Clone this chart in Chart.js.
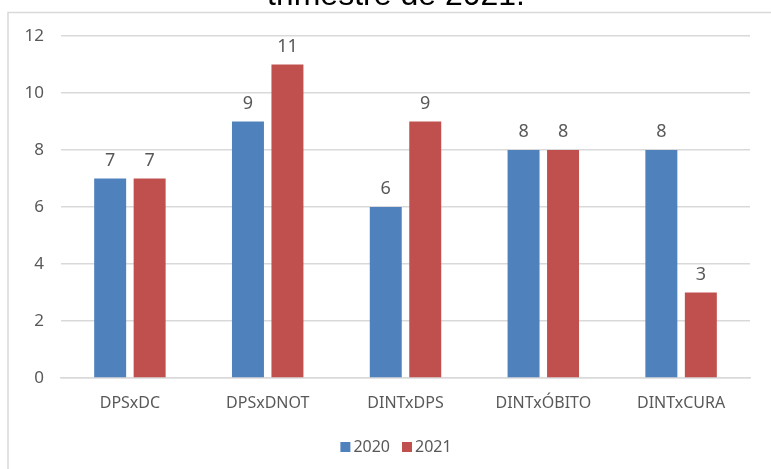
<!DOCTYPE html>
<html>
<head>
<meta charset="utf-8">
<script src="https://cdn.jsdelivr.net/npm/chart.js@4"></script>
<style>
html,body{margin:0;padding:0;background:#fff;}
#wrap{position:relative;width:771px;height:469px;}
</style>
</head>
<body>
<div id="wrap"><canvas id="c" width="771" height="469"></canvas></div>
<script>
const titleText = "trimestre de 2021.";
const categories = ["DPSxDC", "DPSxDNOT", "DINTxDPS", "DINTxÓBITO", "DINTxCURA"];
const seriesNames = ["2020", "2021"];
const values2020 = [7, 9, 6, 8, 8];
const values2021 = [7, 11, 9, 8, 3];
const yTicks = [0, 2, 4, 6, 8, 10, 12];

const textColor = "#595959";
const gridColor = "#D9D9D9";
const colors = ["#4F81BD", "#C0504D"];
const uiFont = "'Noto Sans', 'Open Sans', sans-serif";

const framePlugin = {
  id: "frame",
  beforeDraw(chart) {
    const ctx = chart.ctx;
    ctx.save();
    ctx.fillStyle = "#fff";
    ctx.fillRect(0, 0, chart.width, chart.height);
    ctx.strokeStyle = gridColor;
    ctx.lineWidth = 1.5;
    ctx.strokeRect(8, 12.5, chart.width + 10, chart.height + 10);
    ctx.fillStyle = "#000";
    ctx.font = "32px 'Liberation Sans', Arial, sans-serif";
    ctx.textAlign = "center";
    ctx.textBaseline = "alphabetic";
    ctx.fillText(titleText, 396, 5);
    ctx.restore();
  }
};

const labelPlugin = {
  id: "barLabels",
  afterDatasetsDraw(chart) {
    const ctx = chart.ctx;
    ctx.save();
    ctx.fillStyle = textColor;
    ctx.font = "18px " + uiFont;
    ctx.textAlign = "center";
    ctx.textBaseline = "alphabetic";
    chart.data.datasets.forEach((ds, i) => {
      const meta = chart.getDatasetMeta(i);
      meta.data.forEach((bar, j) => {
        ctx.fillText(String(ds.data[j]), bar.x, bar.y - 13);
      });
    });
    ctx.restore();
  }
};

const legendPlugin = {
  id: "customLegend",
  afterDraw(chart) {
    const ctx = chart.ctx;
    ctx.save();
    ctx.font = "16px " + uiFont;
    ctx.textBaseline = "middle";
    ctx.textAlign = "left";
    const box = 10, gapText = 3, gapItem = 12;
    const items = chart.data.datasets.map(ds => ({ label: ds.label, color: ds.backgroundColor, w: ctx.measureText(ds.label).width }));
    let total = 0;
    items.forEach((it, i) => { total += box + gapText + it.w + (i < items.length - 1 ? gapItem : 0); });
    let x = 396 - total / 2;
    const yMid = 447;
    items.forEach(it => {
      ctx.fillStyle = it.color;
      ctx.fillRect(x, yMid - box / 2, box, box);
      x += box + gapText;
      ctx.fillStyle = textColor;
      ctx.fillText(it.label, x, yMid);
      x += it.w + gapItem;
    });
    ctx.restore();
  }
};

new Chart(document.getElementById("c"), {
  type: "bar",
  data: {
    labels: categories,
    datasets: [
      { label: seriesNames[0], data: values2020, backgroundColor: colors[0] },
      { label: seriesNames[1], data: values2021, backgroundColor: colors[1] }
    ]
  },
  options: {
    responsive: false,
    animation: false,
    devicePixelRatio: 1,
    categoryPercentage: 0.573,
    barPercentage: 0.81,
    layout: { padding: { top: 36, right: 21, left: 0, bottom: 0 } },
    plugins: {
      title: { display: false },
      tooltip: { enabled: false },
      legend: { display: false }
    },
    scales: {
      x: {
        grid: { display: false, drawTicks: false },
        border: { display: true, color: gridColor, width: 1.5 },
        ticks: {
          color: textColor,
          padding: 16,
          font: { family: uiFont, size: 16 }
        },
        afterFit(scale) { scale.height = 91; }
      },
      y: {
        min: 0,
        max: 12,
        afterBuildTicks(scale) { scale.ticks = yTicks.map(v => ({ value: v })); },
        grid: { color: gridColor, lineWidth: 1.5, drawTicks: false },
        border: { display: false },
        ticks: {
          color: textColor,
          padding: 17,
          font: { family: uiFont, size: 17 }
        },
        afterFit(scale) { scale.width = 61; }
      }
    }
  },
  plugins: [framePlugin, labelPlugin, legendPlugin]
});
</script>
</body>
</html>
